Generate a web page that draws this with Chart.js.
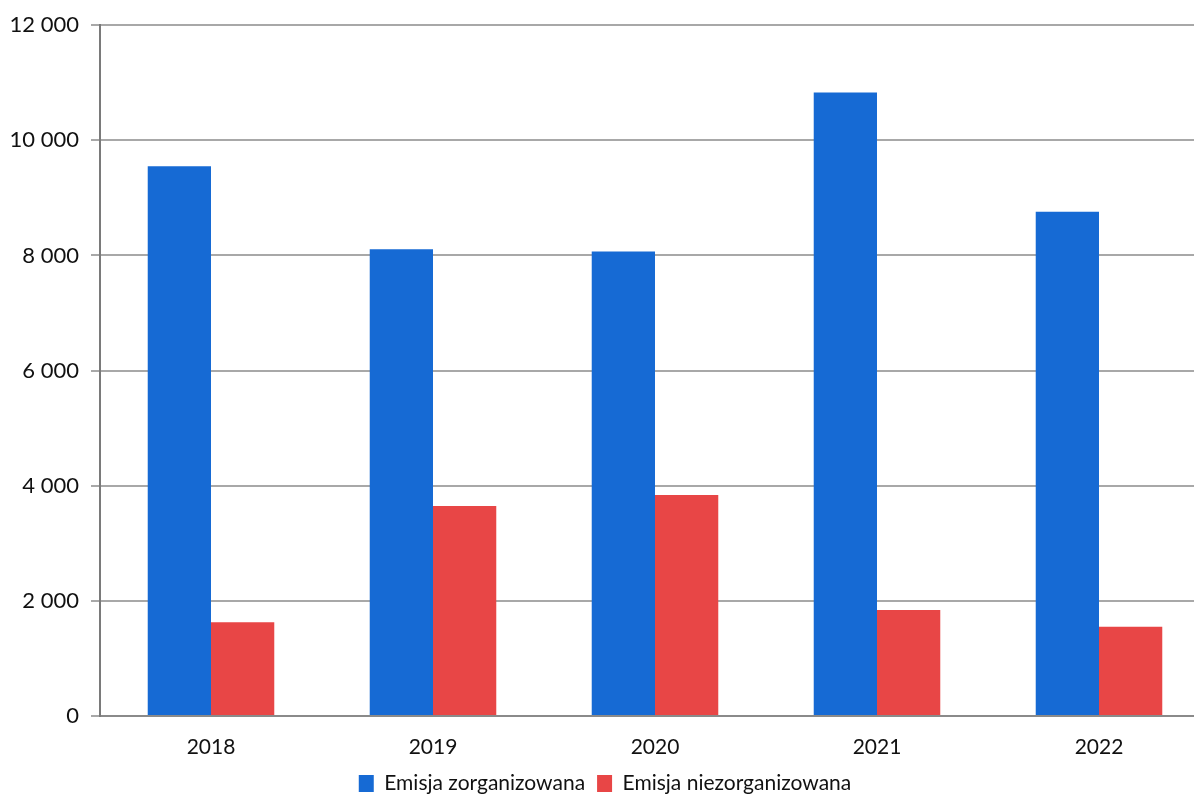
<!DOCTYPE html>
<html>
<head>
<meta charset="utf-8">
<script src="https://cdn.jsdelivr.net/npm/chart.js@4"></script>
<style>
    html, body { margin: 0; padding: 0; background: #fff; overflow: hidden; }
    #wrap { width: 1210px; height: 796px; }
</style>
</head>
<body>
<div id="wrap"><canvas id="emisjaChart"></canvas></div>
<script>
// Emisja w latach 2018-2022
const years = ['2018', '2019', '2020', '2021', '2022'];
const zorganizowana = [9550, 8110, 8070, 10830, 8760];
const niezorganizowana = [1630, 3650, 3840, 1840, 1550];
const yTicks = [0, 2000, 4000, 6000, 8000, 10000, 12000];

const fontFamily = 'Lato, "Open Sans", sans-serif';

// Thousands with a space: 12 000
function formatPl(v) {
    return String(v).replace(/\B(?=(\d{3})+(?!\d))/g, ' ');
}

new Chart(document.getElementById('emisjaChart'), {
    type: 'bar',
    data: {
        labels: years,
        datasets: [{
            label: 'Emisja zorganizowana',
            data: zorganizowana,
            backgroundColor: '#166ad4',
            categoryPercentage: 0.57,
            barPercentage: 1.0
        }, {
            label: 'Emisja niezorganizowana',
            data: niezorganizowana,
            backgroundColor: '#e84646',
            categoryPercentage: 0.57,
            barPercentage: 1.0
        }]
    },
    options: {
        responsive: true,
        maintainAspectRatio: false,
        animation: false,
        layout: { padding: { top: 21, right: 0, bottom: 0, left: 0 } },
        plugins: {
            tooltip: { enabled: false },
            legend: {
                position: 'bottom',
                maxHeight: 35,
                labels: {
                    boxWidth: 15,
                    boxHeight: 17,
                    padding: 12,
                    color: '#111',
                    font: { family: fontFamily, size: 21 }
                }
            }
        },
        scales: {
            x: {
                // fixed height so the plot ends at the same baseline every time
                afterFit: scale => { scale.height = 45; },
                grid: { display: false, drawTicks: false },
                border: { display: true, color: '#8a8a8a', width: 2 },
                ticks: {
                    color: '#111',
                    padding: 19,
                    font: { family: fontFamily, size: 21 }
                }
            },
            y: {
                min: 0,
                max: 12000,
                afterBuildTicks: scale => {
                    scale.ticks = yTicks.map(v => ({ value: v }));
                },
                afterFit: scale => { scale.width = 100; },
                grid: { color: '#a8a8a8', lineWidth: 2, tickLength: 9 },
                border: { display: true, color: '#7a7a7a', width: 2 },
                ticks: {
                    color: '#111',
                    padding: 12,
                    font: { family: fontFamily, size: 22 },
                    callback: v => formatPl(v)
                }
            }
        }
    }
});
</script>
</body>
</html>
